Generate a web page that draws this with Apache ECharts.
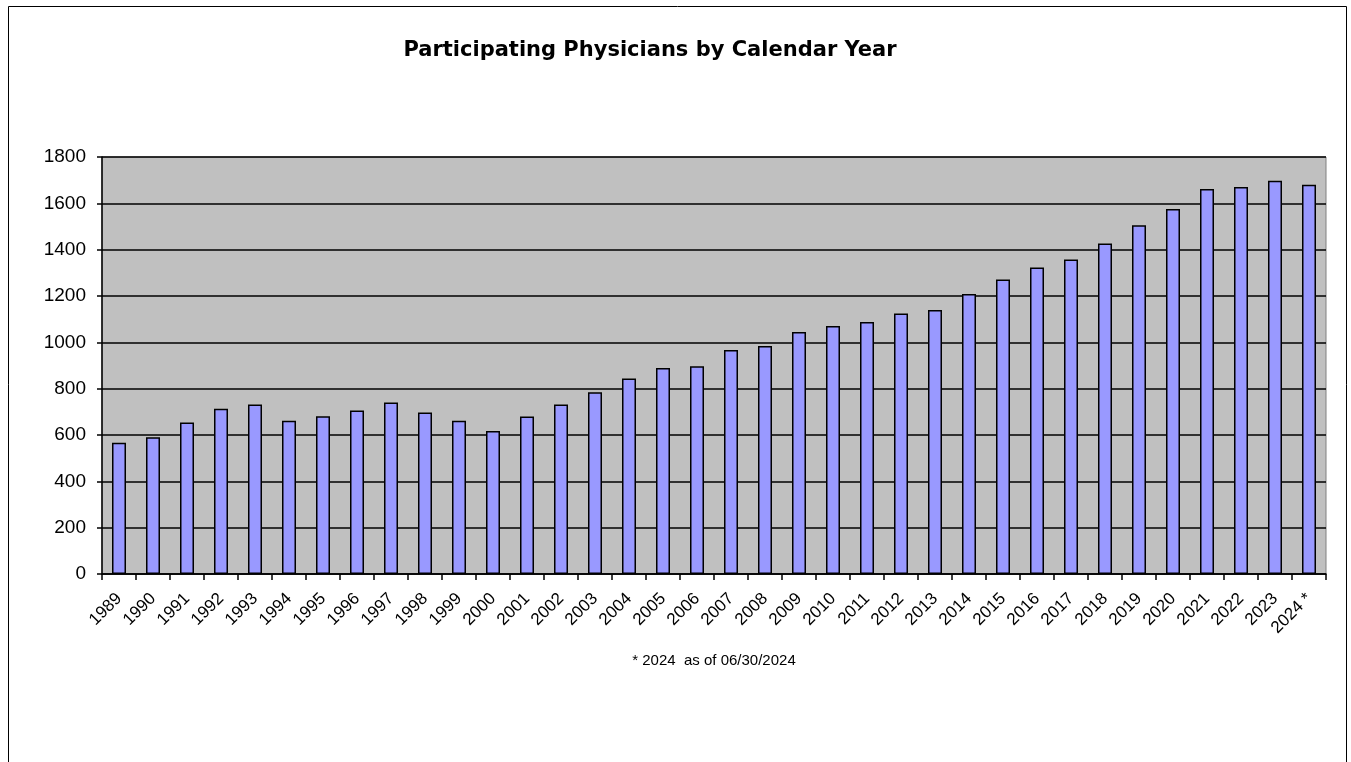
<!DOCTYPE html>
<html><head><meta charset="utf-8">
<script src="https://cdn.jsdelivr.net/npm/echarts@6/dist/echarts.min.js"></script>
<style>html,body{margin:0;padding:0;background:#fff}#c{width:1351px;height:762px}</style>
</head><body><div id="c"></div>
<script>
const years = ['1989','1990','1991','1992','1993','1994','1995','1996','1997','1998','1999','2000','2001','2002','2003','2004','2005','2006','2007','2008','2009','2010','2011','2012','2013','2014','2015','2016','2017','2018','2019','2020','2021','2022','2023','2024 *'];
const physicians = [567,590,654,713,732,662,681,706,740,697,662,617,680,732,784,844,889,897,967,984,1045,1071,1088,1124,1140,1209,1271,1323,1358,1427,1505,1576,1662,1671,1697,1680];
const yTicks = [0,200,400,600,800,1000,1200,1400,1600,1800];
const titleText = 'Participating Physicians by Calendar Year';
const footnote = '* 2024  as of 06/30/2024';

const font = '"Liberation Sans", Arial, sans-serif';
const chart = echarts.init(document.getElementById('c'));
chart.setOption({
  animation: false,
  backgroundColor: '#fff',
  textStyle: {fontFamily: font},
  graphic: [
    {type: 'rect', shape: {x: 8.5, y: 6.5, width: 1338, height: 800}, style: {fill: 'none', stroke: '#000', lineWidth: 1}, z: -10},
    {type: 'text', x: 650, y: 61, style: {text: titleText, font: 'bold 21px "DejaVu Sans", sans-serif', fill: '#000', align: 'center', verticalAlign: 'bottom'}},
    {type: 'text', x: 714, y: 668, style: {text: footnote, font: '15px ' + font, fill: '#000', align: 'center', verticalAlign: 'bottom'}}
  ],
  grid: {left: 102, right: 25, top: 157, bottom: 188, show: true, backgroundColor: '#C0C0C0', borderColor: '#808080', borderWidth: 1},
  xAxis: {
    type: 'category', data: years, boundaryGap: true,
    axisLine: {lineStyle: {color: '#000', width: 1.5}},
    axisTick: {show: true, length: 6, lineStyle: {color: '#000', width: 1.5}},
    axisLabel: {rotate: 45, interval: 0, fontSize: 17, color: '#000', fontFamily: font, margin: 22}
  },
  yAxis: {
    type: 'value', min: 0, max: 1800, interval: 200,
    axisLine: {show: true, lineStyle: {color: '#000', width: 1.5}},
    axisTick: {show: true, length: 5, lineStyle: {color: '#000', width: 1.5}},
    axisLabel: {fontSize: 19, color: '#000', fontFamily: font, margin: 16,
      formatter: v => yTicks.includes(v) ? String(v) : ''},
    splitLine: {show: true, lineStyle: {color: '#000', width: 1.5}}
  },
  series: [{
    type: 'bar', data: physicians, barWidth: 14,
    itemStyle: {color: '#9999FF', borderColor: '#000', borderWidth: 1.5}
  }]
});
</script></body></html>
